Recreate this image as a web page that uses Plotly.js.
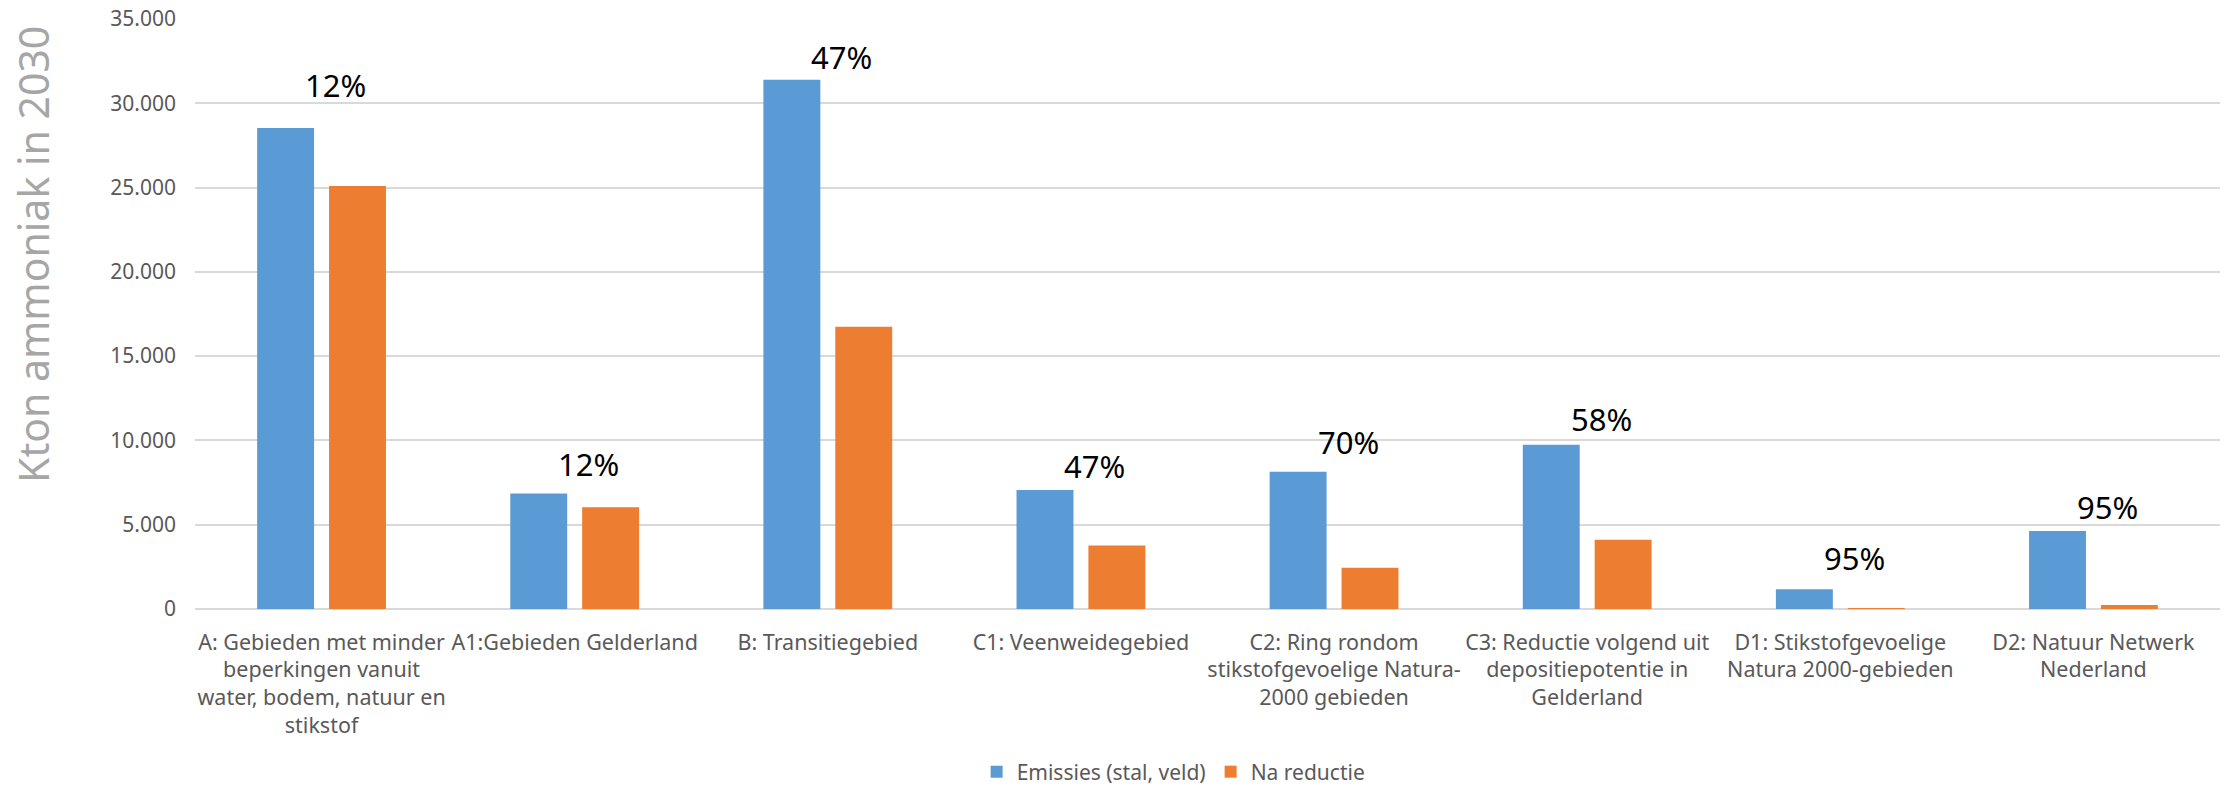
<!DOCTYPE html>
<html>
<head>
<meta charset="utf-8">
<script src="https://cdn.plot.ly/plotly-3.0.1.min.js"></script>
<style>
  html, body { margin: 0; padding: 0; background: #ffffff; }
  #chart { width: 2227px; height: 791px; }
</style>
</head>
<body>
<div id="chart"></div>
<script>
// ---- Data ----
const categories = [
  "A: Gebieden met minder<br>beperkingen vanuit<br>water, bodem, natuur en<br>stikstof",
  "A1:Gebieden Gelderland",
  "B: Transitiegebied",
  "C1: Veenweidegebied",
  "C2: Ring rondom<br>stikstofgevoelige Natura-<br>2000 gebieden",
  "C3: Reductie volgend uit<br>depositiepotentie in<br>Gelderland",
  "D1: Stikstofgevoelige<br>Natura 2000-gebieden",
  "D2: Natuur Netwerk<br>Nederland"
];
const emissies = [28530, 6850, 31400, 7060, 8140, 9750, 1170, 4620];
const naReductie = [25100, 6030, 16750, 3770, 2440, 4110, 60, 230];
const reductieLabels = ["12%", "12%", "47%", "47%", "70%", "58%", "95%", "95%"];

const seriesNames = ["Emissies (stal, veld)", "Na reductie"];
const yTitle = "Kton ammoniak in 2030";
const yTicks = [0, 5000, 10000, 15000, 20000, 25000, 30000, 35000];

// ---- Layout settings (positions / styles) ----
const labelShiftPx = [43, 30, 23, 24, 30, 26, 31, 24];
const FONT = "'Noto Sans', 'DejaVu Sans', sans-serif";

const traces = [
  {
    type: "bar", name: seriesNames[0], x: categories, y: emissies,
    marker: { color: "#5b9bd5" }, hoverinfo: "y"
  },
  {
    type: "bar", name: seriesNames[1], x: categories, y: naReductie,
    marker: { color: "#ed7d31" }, hoverinfo: "y"
  }
];

const annotations = categories.map((c, i) => ({
  x: c, y: emissies[i], xref: "x", yref: "y",
  text: reductieLabels[i], showarrow: false,
  xanchor: "center", yanchor: "middle",
  xshift: 14, yshift: labelShiftPx[i],
  font: { family: FONT, size: 31, color: "#000000" }
}));

annotations.push({
  text: yTitle, xref: "paper", yref: "paper",
  x: -0.080, y: 0.60, xanchor: "center", yanchor: "middle",
  textangle: -90, showarrow: false,
  font: { family: FONT, size: 41, color: "#a6a6a6" }
});

const layout = {
  width: 2227, height: 791,
  margin: { l: 195, r: 7, t: 19, b: 182, pad: 0 },
  paper_bgcolor: "#ffffff", plot_bgcolor: "#ffffff",
  separators: ",.",
  barmode: "group", bargap: 0.432, bargroupgap: 0.208,
  showlegend: true,
  legend: {
    orientation: "h", xref: "container", yref: "container",
    x: 0.527, xanchor: "center", y: 0.024, yanchor: "middle",
    font: { family: FONT, size: 21, color: "#595959" },
    itemwidth: 30, tracegroupgap: 0
  },
  xaxis: {
    type: "category", showgrid: false, zeroline: false,
    showline: false, ticks: "",
    tickangle: 0,
    tickfont: { family: FONT, size: 21.5, color: "#595959" },
    ticklabelstandoff: 18,
    automargin: false
  },
  yaxis: {
    range: [0, 35000], tickvals: yTicks, tickformat: ",d",
    showgrid: true, gridcolor: "#d9d9d9", gridwidth: 2,
    zeroline: true, zerolinecolor: "#d9d9d9", zerolinewidth: 2,
    showline: false, ticks: "",
    tickfont: { family: FONT, size: 21, color: "#595959" },
    ticklabelstandoff: 18,
    automargin: false
  },
  annotations: annotations
};

Plotly.newPlot("chart", traces, layout, { displayModeBar: false, staticPlot: true });
</script>
</body>
</html>
